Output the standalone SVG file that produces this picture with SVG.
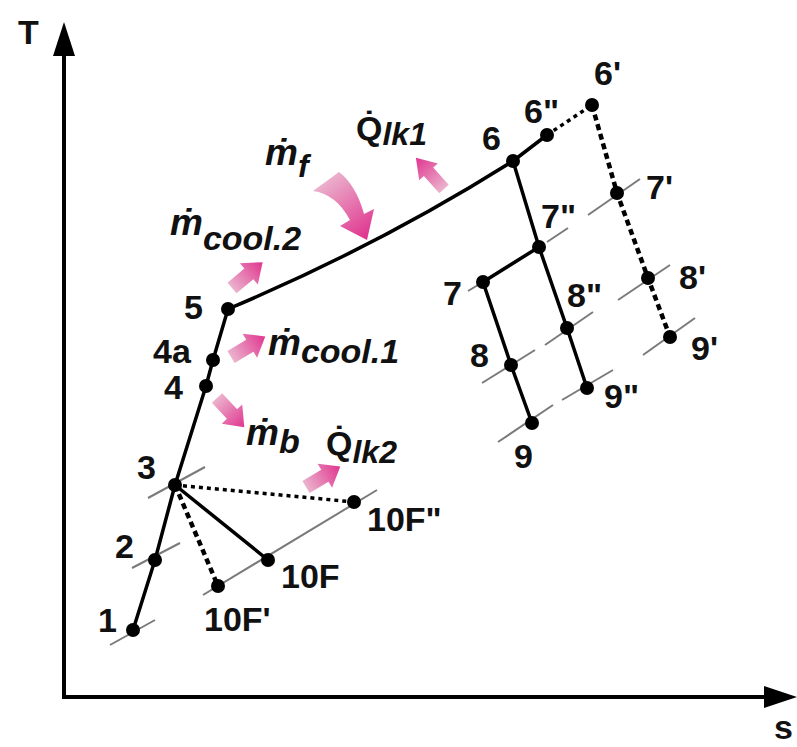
<svg xmlns="http://www.w3.org/2000/svg" width="797" height="747" viewBox="0 0 797 747">
<defs>
<linearGradient id="pk" x1="0" y1="0" x2="1" y2="0"><stop offset="0" stop-color="#ebb3cd"/><stop offset="1" stop-color="#e0358f"/></linearGradient>
<linearGradient id="pkf" gradientUnits="userSpaceOnUse" x1="325" y1="180" x2="368" y2="236"><stop offset="0" stop-color="#ebb3cd"/><stop offset="1" stop-color="#e0358f"/></linearGradient>
<path id="arr" d="M0,-7 L22,-7 L22,-14 L40,0 L22,14 L22,7 L0,7 Z"/>
</defs>
<style>
.ax{stroke:#000;stroke-width:4;fill:none}
.ln{stroke:#000;stroke-width:3.5;fill:none;stroke-linecap:round;stroke-linejoin:round}
.dt{stroke:#000;stroke-width:4.5;fill:none;stroke-dasharray:6 4}
.ds{stroke:#000;stroke-width:3.5;fill:none;stroke-dasharray:4 4}
.tk{stroke:#7a7a7a;stroke-width:2;fill:none}
.pt{fill:#000}
.lb{font-family:"Liberation Sans",Arial,sans-serif;font-weight:bold;font-size:34px;fill:#111}
.it{font-family:"Liberation Sans",Arial,sans-serif;font-weight:bold;font-style:italic;font-size:37px;fill:#111}
.up{font-style:normal}
.pa{fill:url(#pk)}
</style>
<rect width="797" height="747" fill="#fff"/>
<g id="axes">
<line class="ax" x1="64" y1="699" x2="64" y2="54"/>
<polygon points="64,22 53,56 75,56" fill="#000"/>
<line class="ax" x1="62" y1="697" x2="768" y2="697"/>
<polygon points="797,697 764,686 764,708" fill="#000"/>
<text class="lb" x="18" y="44" font-size="35">T</text>
<text class="lb" x="774" y="739" font-size="30">s</text>
</g>
<g id="ticks">
<line class="tk" x1="110" y1="645" x2="155" y2="620"/>
<line class="tk" x1="132" y1="568" x2="180" y2="543"/>
<line class="tk" x1="148" y1="498" x2="205" y2="467"/>
<line class="tk" x1="203" y1="595" x2="377" y2="490"/>
<line class="tk" x1="468" y1="291" x2="483" y2="282"/>
<line class="tk" x1="547" y1="242" x2="568" y2="228"/>
<line class="tk" x1="588" y1="215" x2="640" y2="179"/>
<line class="tk" x1="482" y1="383" x2="535" y2="350"/>
<line class="tk" x1="545" y1="345" x2="593" y2="312"/>
<line class="tk" x1="618" y1="300" x2="670" y2="265"/>
<line class="tk" x1="498" y1="442" x2="553" y2="405"/>
<line class="tk" x1="562" y1="400" x2="613" y2="370"/>
<line class="tk" x1="643" y1="355" x2="695" y2="318"/>
</g>
<g id="connectors">
<polyline class="ln" points="133,630 155,560 175,485 206,386 213,360 228,309"/>
<path class="ln" d="M228,309 Q380,245 513,161"/>
<line class="ln" x1="513" y1="161" x2="547" y2="135"/>
<line class="ds" x1="547" y1="135" x2="592" y2="105"/>
<polyline class="ln" points="513,161 539,247 567,328 587,388"/>
<line class="ln" x1="539" y1="247" x2="483" y2="282"/>
<polyline class="ln" points="483,282 511,365 532,423"/>
<polyline class="dt" points="592,105 617,193 648,278 670,337"/>
<line class="ln" x1="175" y1="485" x2="268" y2="560"/>
<line class="ds" x1="175" y1="485" x2="354" y2="502"/>
<line class="dt" x1="175" y1="485" x2="218" y2="586"/>
</g>
<g id="flows">
<use href="#arr" class="pa" transform="translate(231,357) rotate(-31)"/>
<use href="#arr" class="pa" transform="translate(232,288) rotate(-40)"/>
<use href="#arr" class="pa" transform="translate(217,398) rotate(47)"/>
<use href="#arr" class="pa" transform="translate(306,487) rotate(-31)"/>
<use href="#arr" class="pa" transform="translate(444,189) rotate(-132) scale(1.05,0.9)"/>
<path fill="url(#pkf)" d="M313,191 Q336,194 350,220 L340,226 L367,240 L374,209 L364,214 Q356,185 339,172 Z"/>
</g>
<g id="flow-labels">
<text class="it" x="265" y="165">ṁ<tspan dy="12" font-size="32">f</tspan></text>
<text class="it" x="170" y="235">ṁ<tspan dy="15" font-size="34">cool.2</tspan></text>
<text class="it" x="268" y="355">ṁ<tspan dy="8" font-size="34">cool.1</tspan></text>
<text class="it" x="246" y="445">ṁ<tspan dy="8" font-size="34">b</tspan></text>
<text class="it" x="356" y="140"><tspan class="up" font-size="34">Q̇</tspan><tspan dy="5" font-size="32">lk1</tspan></text>
<text class="it" x="326" y="455"><tspan class="up" font-size="34">Q̇</tspan><tspan dy="8" font-size="32">lk2</tspan></text>
</g>
<g id="n1"><circle class="pt" cx="133" cy="630" r="7"/><text class="lb" x="98" y="632">1</text></g>
<g id="n2"><circle class="pt" cx="155" cy="560" r="7"/><text class="lb" x="115" y="558">2</text></g>
<g id="n3"><circle class="pt" cx="175" cy="485" r="7"/><text class="lb" x="137" y="479">3</text></g>
<g id="n4"><circle class="pt" cx="206" cy="386" r="7"/><text class="lb" x="164" y="399">4</text></g>
<g id="n4a"><circle class="pt" cx="213" cy="360" r="7"/><text class="lb" x="153" y="363">4a</text></g>
<g id="n5"><circle class="pt" cx="228" cy="309" r="7"/><text class="lb" x="184" y="319">5</text></g>
<g id="n6"><circle class="pt" cx="513" cy="161" r="7"/><text class="lb" x="482" y="150">6</text></g>
<g id="n6pp"><circle class="pt" cx="547" cy="135" r="7"/><text class="lb" x="524" y="123">6"</text></g>
<g id="n6p"><circle class="pt" cx="592" cy="105" r="7"/><text class="lb" x="594" y="85">6'</text></g>
<g id="n7pp"><circle class="pt" cx="539" cy="247" r="7"/><text class="lb" x="541" y="228">7"</text></g>
<g id="n7p"><circle class="pt" cx="617" cy="193" r="7"/><text class="lb" x="646" y="199">7'</text></g>
<g id="n7"><circle class="pt" cx="483" cy="282" r="7"/><text class="lb" x="443" y="305">7</text></g>
<g id="n8pp"><circle class="pt" cx="567" cy="328" r="7"/><text class="lb" x="567" y="307">8"</text></g>
<g id="n8"><circle class="pt" cx="511" cy="365" r="7"/><text class="lb" x="470" y="367">8</text></g>
<g id="n8p"><circle class="pt" cx="648" cy="278" r="7"/><text class="lb" x="679" y="289">8'</text></g>
<g id="n9pp"><circle class="pt" cx="587" cy="388" r="7"/><text class="lb" x="604" y="408">9"</text></g>
<g id="n9"><circle class="pt" cx="532" cy="423" r="7"/><text class="lb" x="514" y="468">9</text></g>
<g id="n9p"><circle class="pt" cx="670" cy="337" r="7"/><text class="lb" x="691" y="360">9'</text></g>
<g id="n10Fpp"><circle class="pt" cx="354" cy="502" r="7"/><text class="lb" x="367" y="531">10F"</text></g>
<g id="n10F"><circle class="pt" cx="268" cy="560" r="7"/><text class="lb" x="281" y="588">10F</text></g>
<g id="n10Fp"><circle class="pt" cx="218" cy="586" r="7"/><text class="lb" x="204" y="631">10F'</text></g>
</svg>
